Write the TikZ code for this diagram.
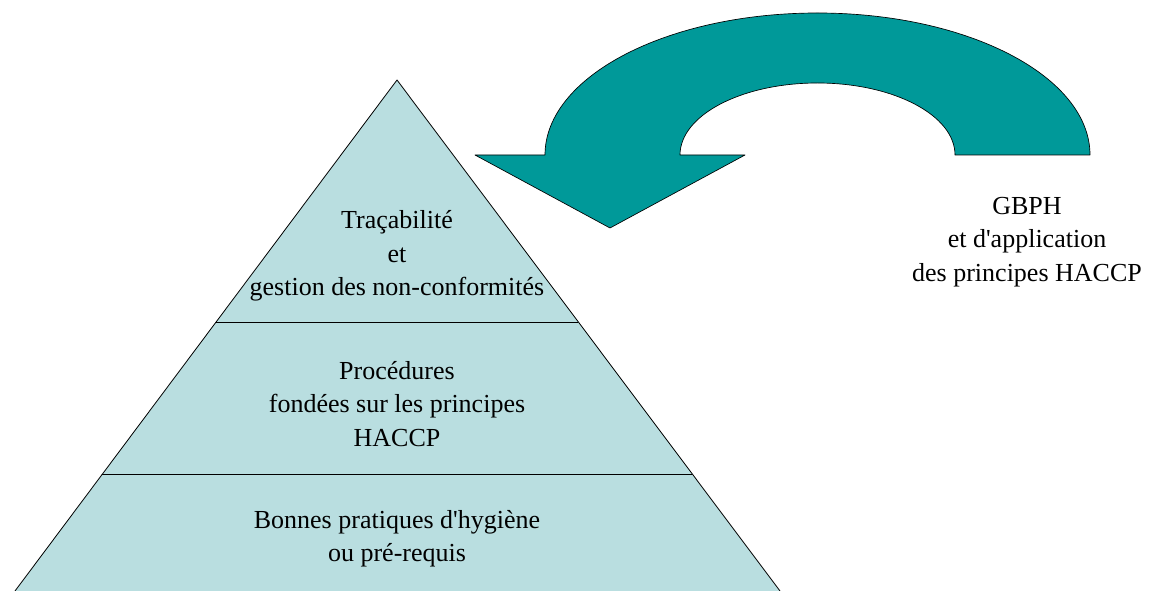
\documentclass[tikz,border=0pt]{standalone}
\usepackage{fontspec}
\setmainfont{Liberation Serif}
\usepackage{xcolor}
\usetikzlibrary{calc,positioning}
\definecolor{pyrfill}{RGB}{185,222,224}
\definecolor{arrowteal}{RGB}{0,153,153}
\tikzset{
  layertext/.style={align=center,inner sep=0pt,font=\fontsize{19.5}{25}\selectfont},
}
\begin{document}
\begin{tikzpicture}[line cap=round,line join=round,x=0.75pt,y=-0.75pt]
\useasboundingbox (0,0) rectangle (1153,591);
\clip (0,0) rectangle (1153,591);
% pyramid
\coordinate (apex) at (397,80);
\coordinate (bl) at (15,591);
\coordinate (br) at (780,591);
\fill[pyrfill] (apex) -- (bl) -- (br) -- cycle;
\draw[line width=0.6pt] (bl) -- (apex) -- (br);
\draw[line width=0.6pt] (216,322) -- (578,322);
\draw[line width=0.6pt] (102,474) -- (692,474);
% curved arrow
\fill[arrowteal,draw=black,line width=0.5pt] (545,155) arc[start angle=180,end angle=360,x radius=272.5,y radius=142]
  -- (955,155) arc[start angle=0,end angle=-180,x radius=137.5,y radius=72]
  -- (745,155) -- (610,228) -- (475,155) -- cycle;
% labels
\node[layertext] (trace) at (397,256) {Traçabilité\\et\\gestion des non-conformités};
\node[layertext] (proc) at (397,404) {Procédures\\fondées sur les principes\\HACCP};
\node[layertext] (bph) at (397,539) {Bonnes pratiques d\textquotesingle hygiène\\ou pré-requis};
\node[layertext] (gbph) at (1027,242) {GBPH\\et d\textquotesingle application\\des principes HACCP};
\end{tikzpicture}
\end{document}
